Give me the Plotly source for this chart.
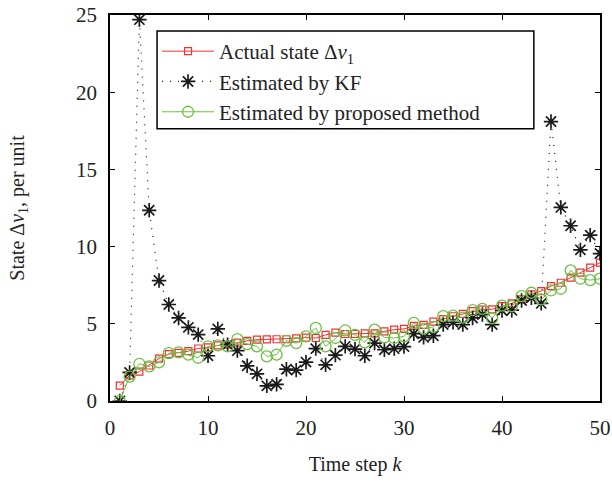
import plotly.graph_objects as go

# Time steps
k = list(range(1, 51))

# Actual state Δv1 (per unit)
actual = [1.0, 1.65, 1.9, 2.3, 2.75, 3.04, 3.12, 3.23, 3.4, 3.47,
          3.6, 3.65, 3.78, 3.9, 3.97, 3.99, 4.0, 4.0, 4.06, 4.1,
          4.08, 4.28, 4.43, 4.34, 4.34, 4.38, 4.38, 4.51, 4.62, 4.67,
          4.86, 4.93, 5.14, 5.3, 5.49, 5.64, 5.82, 5.92, 5.94, 6.14,
          6.32, 6.58, 6.9, 7.12, 7.44, 7.66, 7.99, 8.31, 8.64, 8.96]

# Kalman filter estimate
kf = [0.0, 1.85, 24.7, 12.35, 7.8, 6.25, 5.38, 4.77, 4.3, 2.93,
      4.67, 3.65, 3.26, 2.28, 1.76, 0.98, 1.08, 2.06, 2.0, 2.52,
      3.39, 2.34, 2.97, 3.54, 3.36, 2.93, 3.75, 3.32, 3.39, 3.52,
      4.36, 4.12, 4.23, 4.95, 5.1, 4.95, 5.38, 5.6, 4.95, 5.86,
      5.88, 6.51, 6.68, 6.32, 18.1, 12.54, 11.35, 9.79, 10.74, 9.55]

# Proposed method estimate
proposed = [0.0, 1.58, 2.41, 2.24, 2.5, 3.1, 3.15, 3.0, 2.8, 3.54,
            3.6, 3.54, 4.01, 3.69, 3.54, 2.89, 3.0, 3.9, 3.75, 4.19,
            4.73, 3.54, 4.08, 4.58, 4.28, 3.8, 4.62, 4.12, 4.08, 4.19,
            5.06, 4.69, 4.8, 5.5, 5.53, 5.4, 5.88, 5.97, 5.36, 6.18,
            6.14, 6.79, 7.01, 6.58, 7.16, 7.27, 8.46, 7.92, 7.83, 7.92]

x_ticks = [0, 10, 20, 30, 40, 50]
y_ticks = [0, 5, 10, 15, 20, 25]

RED = "#f03232"
GREEN = "#6cbf45"
INK = "#222222"
FONT = "Liberation Serif"

fig = go.Figure()

fig.add_trace(go.Scatter(
    x=k, y=actual, mode="lines+markers",
    name="Actual state Δ<i>v</i><sub>1</sub>", legendgroup="a",
    line=dict(color=RED, width=1),
    marker=dict(symbol="square-open", size=7, color=RED, line=dict(width=1.2, color=RED)),
))

fig.add_trace(go.Scatter(
    x=k, y=kf, mode="lines+markers",
    name="Estimated by KF", legendgroup="b",
    line=dict(color="#1a1a1a", width=1.2, dash="1px,7px"),
    marker=dict(symbol="asterisk-open", size=12, color="#1a1a1a", line=dict(width=1.7, color="#1a1a1a")),
))

fig.add_trace(go.Scatter(
    x=k, y=proposed, mode="lines+markers",
    name="Estimated by proposed method", legendgroup="c",
    line=dict(color=GREEN, width=1),
    marker=dict(symbol="circle-open", size=11, color=GREEN, line=dict(width=1.3, color=GREEN)),
))

axis_common = dict(
    showgrid=False, zeroline=False, automargin=False,
    showline=True, linecolor="black", linewidth=1.5,
    mirror="ticks", ticks="inside", ticklen=5, tickwidth=1,
    tickcolor="black", ticklabelstandoff=7,
    tickfont=dict(family=FONT, size=21, color=INK),
)

fig.update_xaxes(
    range=[0, 50], tickvals=x_ticks,
    title=dict(text="Time step <i>k</i>", font=dict(family=FONT, size=20, color=INK), standoff=18),
    **axis_common,
)
fig.update_yaxes(
    range=[0, 25], tickvals=y_ticks,
    title=dict(text="State Δ<i>v</i><sub>1</sub>, per unit", font=dict(family=FONT, size=20, color=INK), standoff=46),
    **axis_common,
)

# Legend frame: a white box above the data, with the legend entries drawn on it
fig.add_shape(
    type="rect", xref="paper", yref="paper",
    x0=0.096, x1=0.865, y0=0.705, y1=0.9585,
    fillcolor="white", line=dict(color="black", width=1.5), layer="above",
)

fig.update_layout(
    width=612, height=485,
    margin=dict(l=110, r=12, t=15, b=84),
    paper_bgcolor="white", plot_bgcolor="white",
    font=dict(family=FONT, size=20, color=INK),
    showlegend=True,
    legend=dict(
        x=0.096, y=0.9585, xanchor="left", yanchor="top",
        bgcolor="rgba(0,0,0,0)", borderwidth=0,
        font=dict(family=FONT, size=21, color=INK),
        itemwidth=52, tracegroupgap=0,
    ),
)

fig.write_html("out.html")
